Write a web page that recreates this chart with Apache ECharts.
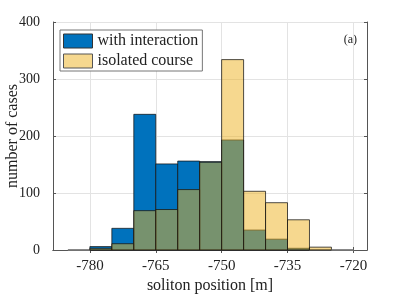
<!DOCTYPE html>
<html>
<head>
<meta charset="utf-8">
<script src="https://cdn.jsdelivr.net/npm/echarts@6/dist/echarts.min.js"></script>
<style>html,body{margin:0;padding:0;background:#fff}#c{width:407px;height:295px}</style>
</head>
<body>
<div id="c"></div>
<script>
const binEdges = [-785, -780, -775, -770, -765, -760, -755, -750, -745, -740, -735, -730, -725, -720];
const withInteraction = [0, 6, 38, 238, 151, 156, 155, 193, 35, 19, 3, 0, 0];
const isolatedCourse = [0, 3, 11, 69, 71, 106, 154, 334, 103, 83, 53, 5, 0];
const xTicks = [-780, -765, -750, -735, -720];
const yTicks = [0, 100, 200, 300, 400];
const seriesNames = ['with interaction', 'isolated course'];

const FONT = 'Liberation Serif';
const blue = '#0072BD';
const yellow = 'rgba(237,177,32,0.5)';
const edge = 'rgba(20,20,20,0.75)';

function toBins(vals) {
  return vals.map((v, i) => [binEdges[i], binEdges[i + 1], v]);
}
function makeRender(fill) {
  return function (params, api) {
    const x0 = api.value(0), x1 = api.value(1), y = api.value(2);
    const p0 = api.coord([x0, y]);
    const p1 = api.coord([x1, 0]);
    return {
      type: 'rect',
      shape: { x: p0[0], y: p0[1], width: p1[0] - p0[0], height: p1[1] - p0[1] },
      style: { fill: fill, stroke: y === 0 ? 'rgba(120,120,120,0.8)' : edge, lineWidth: 1 }
    };
  };
}

const axisLineStyle = { color: '#555', width: 1 };
const chart = echarts.init(document.getElementById('c'));
chart.setOption({
  animation: false,
  grid: { left: 53, right: 40, top: 22, bottom: 45, containLabel: false, outerBoundsMode: 'none' },
  legend: {
    orient: 'vertical',
    left: 60, top: 30,
    padding: [3, 4, 2, 3],
    itemGap: 4,
    itemWidth: 29, itemHeight: 14,
    borderColor: '#777', borderWidth: 1,
    backgroundColor: '#fff',
    textStyle: { fontFamily: FONT, fontSize: 16, color: '#222' },
    data: [
      { name: seriesNames[0], icon: 'rect', itemStyle: { color: blue, borderColor: '#333', borderWidth: 1 } },
      { name: seriesNames[1], icon: 'rect', itemStyle: { color: '#F6D88F', borderColor: '#555', borderWidth: 1 } }
    ]
  },
  xAxis: [{
    type: 'value', min: -788.4, max: -716.9,
    name: 'soliton position [m]', nameLocation: 'middle', nameGap: 28, nameMoveOverlap: false,
    nameTextStyle: { fontFamily: FONT, fontSize: 16, color: '#222' },
    axisLine: { show: true, lineStyle: axisLineStyle },
    axisTick: { show: true, inside: true, length: 3, customValues: xTicks, lineStyle: axisLineStyle },
    axisLabel: { customValues: xTicks, margin: 9, fontFamily: FONT, fontSize: 15, color: '#222' },
    splitLine: { show: true, lineStyle: { color: '#e3e3e3' } }
  }, {
    type: 'value', min: -788.4, max: -716.9, position: 'top',
    axisLine: { show: true, lineStyle: axisLineStyle },
    axisTick: { show: true, inside: true, length: 3, customValues: xTicks, lineStyle: axisLineStyle },
    axisLabel: { show: false },
    splitLine: { show: false }
  }],
  yAxis: [{
    type: 'value', min: 0, max: 400, interval: 100,
    name: 'number of cases', nameLocation: 'middle', nameGap: 32, nameMoveOverlap: false,
    nameTextStyle: { fontFamily: FONT, fontSize: 16, color: '#222' },
    axisLine: { show: true, lineStyle: axisLineStyle },
    axisTick: { show: true, inside: true, length: 3, lineStyle: axisLineStyle },
    axisLabel: { margin: 13, fontFamily: FONT, fontSize: 14, color: '#222' },
    splitLine: { show: true, lineStyle: { color: '#e3e3e3' } }
  }, {
    type: 'value', min: 0, max: 400, interval: 100, position: 'right',
    axisLine: { show: true, lineStyle: axisLineStyle },
    axisTick: { show: true, inside: true, length: 3, lineStyle: axisLineStyle },
    axisLabel: { show: false },
    splitLine: { show: false }
  }],
  graphic: [{
    type: 'text', right: 50, top: 34,
    style: { text: '(a)', fontFamily: FONT, fontSize: 12, fill: '#222' }
  }],
  series: [{
    name: seriesNames[0], type: 'custom',
    xAxisIndex: 0, yAxisIndex: 0,
    itemStyle: { color: blue },
    renderItem: makeRender(blue),
    encode: { x: [0, 1], y: 2 },
    data: toBins(withInteraction)
  }, {
    name: seriesNames[1], type: 'custom',
    xAxisIndex: 0, yAxisIndex: 0,
    itemStyle: { color: '#F6D88F' },
    renderItem: makeRender(yellow),
    encode: { x: [0, 1], y: 2 },
    data: toBins(isolatedCourse)
  }]
});
</script>
</body>
</html>
